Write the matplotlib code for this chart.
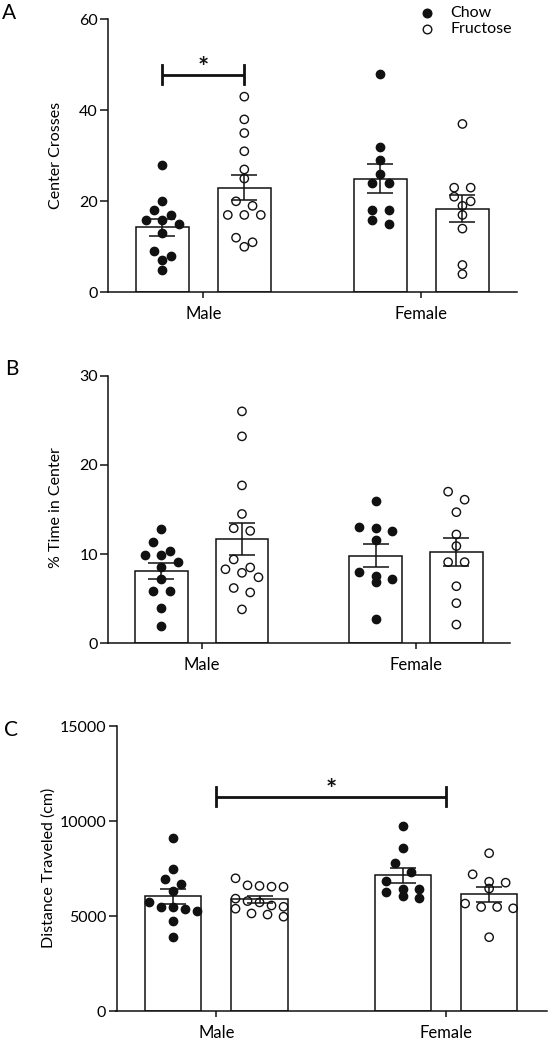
import numpy as np
import matplotlib
matplotlib.use("Agg")
import matplotlib.pyplot as plt
from matplotlib.lines import Line2D

plt.rcParams['font.family'] = ['Lato', 'DejaVu Sans']

W, H = 552, 1045   # output size in pixels (dpi 100)

# ------------------------------------------------------------------
# Data
# ------------------------------------------------------------------
sexes = ['Male', 'Female']
diets = ['Chow', 'Fructose']

crosses_male_chow = [28, 20, 18, 17, 16, 16, 15, 13, 9, 8, 7, 5]
crosses_male_fru = [43, 38, 35, 31, 27, 25, 20, 19, 17, 17, 17, 12, 11, 10]
crosses_female_chow = [48, 32, 29, 26, 24, 24, 18, 18, 16, 15]
crosses_female_fru = [37, 23, 23, 21, 20, 19, 17, 14, 6, 4]

time_male_chow = [12.8, 11.4, 10.4, 9.9, 9.9, 9.1, 8.6, 7.2, 5.9, 5.9, 4.0, 1.9]
time_male_fru = [26.0, 23.2, 17.7, 14.5, 12.9, 12.6, 9.4, 8.5, 8.3, 7.9, 7.4, 6.2, 5.7, 3.8]
time_female_chow = [15.9, 13.0, 12.9, 12.6, 11.6, 8.0, 7.6, 7.2, 6.9, 2.7]
time_female_fru = [17.0, 16.1, 14.7, 12.2, 10.9, 9.1, 9.1, 6.4, 4.5, 2.1]

dist_male_chow = [9100, 7470, 6950, 6700, 6350, 5770, 5500, 5470, 5400, 5300, 4770, 3930]
dist_male_fru = [7000, 6630, 6600, 6560, 6550, 5930, 5800, 5730, 5570, 5500, 5400, 5150, 5090, 4980]
dist_female_chow = [9750, 8610, 7790, 7350, 6860, 6440, 6440, 6260, 6050, 5960]
dist_female_fru = [8320, 7210, 6820, 6770, 6460, 5670, 5490, 5490, 5420, 3900]

crosses_ticks = [0, 20, 40, 60]
time_ticks = [0, 10, 20, 30]
dist_ticks = [0, 5000, 10000, 15000]

# ------------------------------------------------------------------
# Helpers
# ------------------------------------------------------------------
OFF = 0.188      # bar offset from group centre
BW = 0.245       # bar width
INK = '#111111'


def px_rect(x0, x1, ytop, ybot):
    """Axes rectangle from pixel edges (origin top-left)."""
    return [x0 / W, 1 - ybot / H, (x1 - x0) / W, (ybot - ytop) / H]


def swarm_x(ax, centre, vals, thresh=9.0, step=16.5, span=48.0):
    """Prism-like row layout of the dots, done in pixel space."""
    vals = np.asarray(vals, float)
    y_px = ax.transData.transform(np.column_stack([np.zeros(len(vals)), vals]))[:, 1]
    xc = ax.transData.transform([[centre, 0]])[0, 0]
    order = np.argsort(-y_px, kind='stable')
    rows = []
    for i in order:
        if rows and y_px[rows[-1][0]] - y_px[i] < thresh:
            rows[-1].append(i)
        else:
            rows.append([i])
    offs = np.zeros(len(vals))
    for row in rows:
        n = len(row)
        st = step if n < 2 else min(step, span / (n - 1))
        for k, i in enumerate(row):
            offs[i] = (k - (n - 1) / 2) * st
    pts = np.column_stack([xc + offs, y_px])
    return ax.transData.inverted().transform(pts)[:, 0]


def draw_panel(fig, rect, groups, ylim, yticks, ylabel, ylabel_xy, letter, letter_xy):
    ax = fig.add_axes(rect)
    ax.set_xlim(-0.435, 1.44)
    ax.set_ylim(ylim)
    pos = [0 - OFF, 0 + OFF, 1 - OFF, 1 + OFF]
    for p, (vals, filled) in zip(pos, groups):
        v = np.asarray(vals, float)
        m = v.mean()
        sem = v.std(ddof=1) / np.sqrt(len(v))
        ax.bar(p, m, width=BW, color='white', edgecolor=INK, lw=1.1, zorder=1)
        xs = swarm_x(ax, p, v)
        ax.scatter(xs, v, s=36, facecolor=INK if filled else 'none',
                   edgecolor=INK, lw=1.0, zorder=3, clip_on=False)
        ax.errorbar(p, m, yerr=sem, color=INK, lw=1.1, capsize=9.5,
                    capthick=1.1, zorder=4)
    for s in ['top', 'right']:
        ax.spines[s].set_visible(False)
    for s in ['left', 'bottom']:
        ax.spines[s].set_linewidth(1.1)
        ax.spines[s].set_color(INK)
    ax.set_yticks(yticks)
    ax.set_xticks([0, 1])
    ax.set_xticklabels(sexes)
    ax.tick_params(axis='y', length=5.5, width=1.1, pad=2, labelsize=11.5, color=INK)
    ax.tick_params(axis='x', length=4, width=1.1, pad=6, labelsize=12, color=INK)
    fig.text(ylabel_xy[0] / W, 1 - ylabel_xy[1] / H, ylabel, rotation=90,
             ha='center', va='center', fontsize=11.5)
    fig.text(letter_xy[0] / W, 1 - letter_xy[1] / H, letter,
             ha='center', va='center', fontsize=15)
    return ax


def sig_bracket(ax, x0, x1, y, tick, star_y):
    ax.plot([x0, x1], [y, y], color=INK, lw=2, solid_capstyle='butt', zorder=5)
    for x in (x0, x1):
        ax.plot([x, x], [y - tick, y + tick], color=INK, lw=2, zorder=5)
    ax.text((x0 + x1) / 2, star_y, '*', ha='center', va='center',
            fontsize=19, fontweight='bold', color=INK)


# ------------------------------------------------------------------
# Figure
# ------------------------------------------------------------------
fig = plt.figure(figsize=(W / 100, H / 100), dpi=100)

axA = draw_panel(fig, px_rect(108.4, 517.4, 19.3, 292.3),
                 [(crosses_male_chow, True), (crosses_male_fru, False),
                  (crosses_female_chow, True), (crosses_female_fru, False)],
                 (0, 60), crosses_ticks, 'Center Crosses', (55.6, 155), 'A', (9, 13))
sig_bracket(axA, -OFF, OFF, 47.8, 2.1, 49.2)

axB = draw_panel(fig, px_rect(108.4, 510.4, 375.7, 643.3),
                 [(time_male_chow, True), (time_male_fru, False),
                  (time_female_chow, True), (time_female_fru, False)],
                 (0, 30), time_ticks, '% Time in Center', (56, 508), 'B', (11.6, 369))

axC = draw_panel(fig, px_rect(116.5, 547, 726.3, 1011.3),
                 [(dist_male_chow, True), (dist_male_fru, False),
                  (dist_female_chow, True), (dist_female_fru, False)],
                 (0, 15000), dist_ticks, 'Distance Traveled (cm)', (49, 868), 'C', (10.6, 730))
sig_bracket(axC, 0, 1, 11300, 510, 11650)

# legend (top right of panel A)
for k, (lab, filled) in enumerate(zip(diets, [True, False])):
    yy = 1 - (13.3 + 15.4 * k) / H
    fig.add_artist(Line2D([426.6 / W], [yy], marker='o', markersize=6.2,
                          markerfacecolor=INK if filled else 'none',
                          markeredgecolor=INK, markeredgewidth=1.0, linestyle='none'))
    fig.text(450.6 / W, yy, lab, ha='left', va='center', fontsize=11.5)

fig.savefig('out.png', dpi=100)
